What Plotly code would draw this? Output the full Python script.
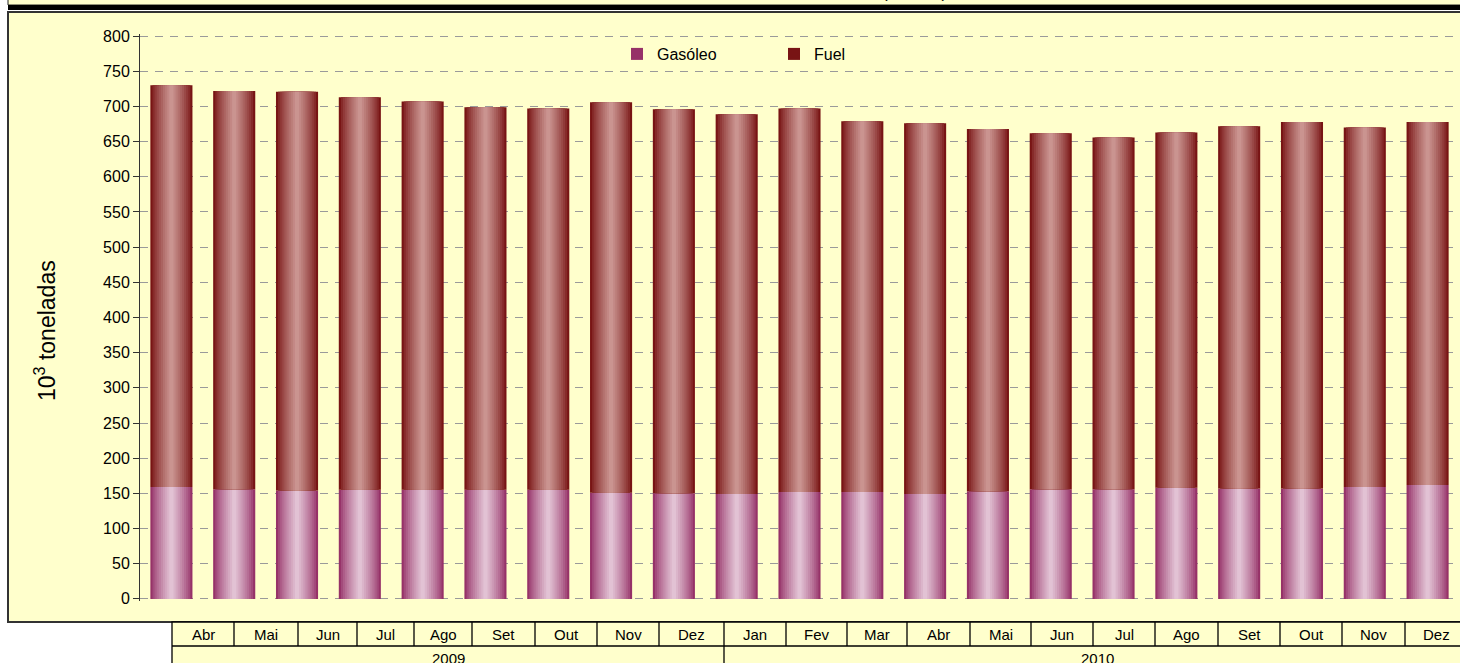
import plotly.graph_objects as go

# ---------------- data ----------------
months = ["Abr", "Mai", "Jun", "Jul", "Ago", "Set", "Out", "Nov", "Dez",
          "Jan", "Fev", "Mar", "Abr", "Mai", "Jun", "Jul", "Ago", "Set", "Out", "Nov", "Dez"]
years = ["2009", "2010"]
year_of_month = ["2009"] * 9 + ["2010"] * 12
gasoleo = [159, 156, 154, 155, 155, 155, 155, 151, 150, 149, 152, 152,
           149, 153, 156, 156, 158, 157, 157, 159, 162]
fuel = [571, 566, 567, 558, 552, 544, 542, 555, 546, 540, 545, 527,
        527, 515, 506, 500, 505, 515, 521, 511, 516]
y_ticks = list(range(0, 801, 50))
y_title = "10<sup>3</sup> toneladas"

categories = [f"{m} {y}" for m, y in zip(months, year_of_month)]

# ---------------- layout constants ----------------
W, H = 1460, 663
ML, MR, MT, MB = 140, 1, 34, 62
PW, PH = W - ML - MR, H - MT - MB
FONT = "Arial, Liberation Sans, sans-serif"
BAR_W = 0.67
N_LAYERS = 10
Y_PAD = 3


def px_x(px):
    return (px - ML) / PW


def px_y(py):
    return (H - MB - py) / PH


def mix(c1, c2, t):
    return "rgb(%d,%d,%d)" % tuple(round(a + (b - a) * t) for a, b in zip(c1, c2))


GAS_EDGE, GAS_MID = (150, 50, 104), (226, 194, 212)
FUEL_EDGE, FUEL_MID = (120, 20, 20), (202, 148, 144)

fig = go.Figure()

for name, vals, base, edge, mid in [
    ("Gasóleo", gasoleo, None, GAS_EDGE, GAS_MID),
    ("Fuel", fuel, gasoleo, FUEL_EDGE, FUEL_MID),
]:
    for k in range(N_LAYERS):
        t = k / (N_LAYERS - 1)
        w = BAR_W * (1 - k / N_LAYERS)
        fig.add_trace(go.Bar(
            x=categories, y=vals, base=base, width=w,
            name=name, legendgroup=name, showlegend=(k == 0),
            marker=dict(color=mix(edge, mid, t ** 0.8), line=dict(width=0)),
            hoverinfo="skip" if k else None,
        ))

shapes = []
# top black band (title frame)
shapes.append(dict(type="rect", xref="paper", yref="paper",
                   x0=px_x(8), x1=px_x(1470), y0=px_y(5), y1=px_y(-5),
                   fillcolor="#FFFFCC", line=dict(color="#222", width=1), layer="below"))
shapes.append(dict(type="rect", xref="paper", yref="paper",
                   x0=px_x(8), x1=px_x(1470), y0=px_y(10), y1=px_y(5),
                   fillcolor="black", line=dict(width=0), layer="below"))
# main yellow panel
shapes.append(dict(type="rect", xref="paper", yref="paper",
                   x0=px_x(8), x1=px_x(1475), y0=px_y(622), y1=px_y(12),
                   fillcolor="#FFFFCC", line=dict(color="#333", width=2), layer="below"))

# data table under the chart
cell_edges = [172, 234, 298, 357, 414, 472, 535, 597, 659, 724, 786, 847,
              907, 970, 1031, 1093, 1155, 1218, 1280, 1342, 1405, 1468]
row_top, row_mid, row_bot = 622, 646, 675
shapes.append(dict(type="rect", xref="paper", yref="paper",
                   x0=px_x(cell_edges[0]), x1=px_x(1480), y0=px_y(row_bot), y1=px_y(row_top),
                   fillcolor="#FFFFCC", line=dict(color="black", width=1.3), layer="above"))
shapes.append(dict(type="line", xref="paper", yref="paper",
                   x0=px_x(cell_edges[0]), x1=px_x(1480), y0=px_y(row_mid), y1=px_y(row_mid),
                   line=dict(color="black", width=1.3)))
for e in cell_edges[1:-1]:
    shapes.append(dict(type="line", xref="paper", yref="paper",
                       x0=px_x(e), x1=px_x(e), y0=px_y(row_mid), y1=px_y(row_top),
                       line=dict(color="black", width=1.3)))
year_split = cell_edges[year_of_month.index("2010")]
shapes.append(dict(type="line", xref="paper", yref="paper",
                   x0=px_x(year_split), x1=px_x(year_split), y0=px_y(row_bot), y1=px_y(row_mid),
                   line=dict(color="black", width=1.3)))

annotations = []
for i, m in enumerate(months):
    cx = (cell_edges[i] + cell_edges[i + 1]) / 2
    annotations.append(dict(x=px_x(cx), y=px_y((row_top + row_mid) / 2), xref="paper", yref="paper",
                            text=m, showarrow=False, xanchor="center", yanchor="middle",
                            font=dict(family=FONT, size=15, color="black")))
for yr in years:
    idx = [i for i, y in enumerate(year_of_month) if y == yr]
    x0, x1 = cell_edges[idx[0]], cell_edges[idx[-1] + 1]
    if yr == "2010":
        x1 = 1470
    annotations.append(dict(x=px_x((x0 + x1) / 2), y=px_y(659), xref="paper", yref="paper",
                            text=yr, showarrow=False, xanchor="center", yanchor="middle",
                            font=dict(family=FONT, size=15, color="black")))
# y-axis title
annotations.append(dict(x=px_x(45), y=px_y(331), xref="paper", yref="paper",
                        text=y_title, textangle=-90, showarrow=False,
                        xanchor="center", yanchor="middle",
                        font=dict(family=FONT, size=23, color="black")))
# cut-off title fragment at the very top
annotations.append(dict(x=px_x(914), y=px_y(4), xref="paper", yref="paper",
                        text="(10<sup>3</sup> ton)", showarrow=False, xanchor="center", yanchor="bottom",
                        font=dict(family=FONT, size=17, color="black")))

fig.update_layout(
    width=W, height=H, autosize=False,
    margin=dict(l=ML, r=MR, t=MT, b=MB, pad=0),
    paper_bgcolor="white", plot_bgcolor="rgba(0,0,0,0)",
    barmode="overlay", bargap=0.33,
    font=dict(family=FONT, color="black"),
    shapes=shapes, annotations=annotations,
    legend=dict(orientation="h", x=px_x(617), y=px_y(54), xanchor="left", yanchor="middle",
                bgcolor="rgba(0,0,0,0)", font=dict(family=FONT, size=16, color="black"),
                entrywidth=112, entrywidthmode="pixels", itemwidth=30,
                traceorder="normal"),
    xaxis=dict(range=[-0.5, len(categories) - 0.5], showticklabels=False, ticks="",
               showgrid=False, showline=False, zeroline=False, fixedrange=True),
    yaxis=dict(range=[-Y_PAD, 800 + Y_PAD], tickvals=y_ticks, ticks="outside", ticklen=6, tickcolor="#333",
               tickfont=dict(family=FONT, size=16, color="black"),
               showline=True, linecolor="#333", linewidth=1,
               showgrid=True, gridcolor="#9a9a9a", gridwidth=1, griddash="8px,7px",
               zeroline=False),
)

fig.write_html("out.html", config={"displayModeBar": False},
               post_script="document.body.style.margin='0';document.body.style.overflow='hidden';")
